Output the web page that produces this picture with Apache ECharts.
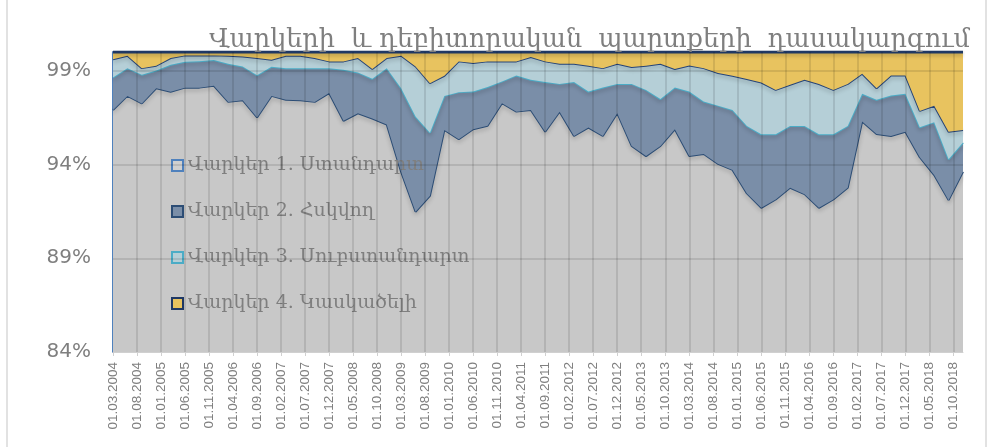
<!DOCTYPE html>
<html>
<head>
<meta charset="utf-8">
<script src="https://cdn.jsdelivr.net/npm/echarts@6/dist/echarts.min.js"></script>
<style>
  html, body { margin: 0; padding: 0; background: #fff; }
  #chart { width: 989px; height: 447px; }
</style>
</head>
<body>
<div id="chart"></div>
<script>
// quarterly observations, 03.2004 .. 12.2018
const dates = [
  '03.2004', '06.2004', '09.2004', '12.2004', '03.2005', '06.2005', '09.2005', '12.2005',
  '03.2006', '06.2006', '09.2006', '12.2006', '03.2007', '06.2007', '09.2007', '12.2007',
  '03.2008', '06.2008', '09.2008', '12.2008', '03.2009', '06.2009', '09.2009', '12.2009',
  '03.2010', '06.2010', '09.2010', '12.2010', '03.2011', '06.2011', '09.2011', '12.2011',
  '03.2012', '06.2012', '09.2012', '12.2012', '03.2013', '06.2013', '09.2013', '12.2013',
  '03.2014', '06.2014', '09.2014', '12.2014', '03.2015', '06.2015', '09.2015', '12.2015',
  '03.2016', '06.2016', '09.2016', '12.2016', '03.2017', '06.2017', '09.2017', '12.2017',
  '03.2018', '06.2018', '09.2018', '12.2018'
];

const standard = [
  96.91, 97.66, 97.26, 98.07, 97.88, 98.10, 98.10, 98.20, 97.34, 97.43,
  96.51, 97.66, 97.45, 97.43, 97.34, 97.81, 96.33, 96.73, 96.45, 96.13,
  93.60, 91.48, 92.33, 95.84, 95.35, 95.88, 96.07, 97.27, 96.82, 96.91,
  95.75, 96.82, 95.52, 95.97, 95.52, 96.74, 94.99, 94.45, 94.99, 95.88,
  94.45, 94.56, 94.03, 93.71, 92.46, 91.69, 92.14, 92.76, 92.42, 91.69,
  92.14, 92.76, 96.29, 95.63, 95.52, 95.75, 94.39, 93.44, 92.10, 93.61
];
const watched = [
  1.73, 1.48, 1.53, 0.94, 1.44, 1.38, 1.41, 1.37, 2.03, 1.80,
  2.25, 1.55, 1.68, 1.70, 1.79, 1.32, 2.72, 2.18, 2.12, 3.01,
  4.47, 5.08, 3.37, 1.82, 2.51, 2.01, 2.06, 1.16, 1.93, 1.61,
  2.65, 1.48, 2.88, 1.92, 2.59, 1.56, 3.31, 3.53, 2.50, 2.23,
  3.44, 2.80, 3.11, 3.20, 3.60, 3.92, 3.47, 3.30, 3.64, 3.92,
  3.47, 3.30, 1.48, 1.82, 2.16, 2.02, 1.60, 2.82, 2.18, 1.56
];
const substandard = [
  0.97, 0.66, 0.35, 0.26, 0.36, 0.34, 0.31, 0.25, 0.43, 0.53,
  0.92, 0.38, 0.67, 0.67, 0.55, 0.37, 0.45, 0.77, 0.52, 0.54,
  1.73, 2.67, 2.64, 1.07, 1.64, 1.52, 1.37, 1.07, 0.75, 1.21,
  1.10, 1.07, 0.97, 1.38, 1.03, 1.07, 0.90, 1.29, 1.88, 0.98,
  1.39, 1.78, 1.74, 1.82, 2.50, 2.76, 2.37, 2.19, 2.46, 2.68,
  2.37, 2.24, 1.07, 0.62, 1.07, 0.98, 0.87, 0.87, 1.47, 0.67
];
const doubtful = [
  0.39, 0.20, 0.86, 0.73, 0.32, 0.18, 0.18, 0.18, 0.20, 0.24,
  0.32, 0.41, 0.20, 0.20, 0.32, 0.50, 0.50, 0.32, 0.91, 0.32,
  0.20, 0.77, 1.66, 1.27, 0.50, 0.59, 0.50, 0.50, 0.50, 0.27,
  0.50, 0.63, 0.63, 0.73, 0.86, 0.63, 0.80, 0.73, 0.63, 0.91,
  0.72, 0.86, 1.12, 1.27, 1.44, 1.63, 2.02, 1.75, 1.48, 1.71,
  2.02, 1.70, 1.16, 1.93, 1.25, 1.25, 3.14, 2.87, 4.25, 4.16
];

const names = [
  'Վարկեր 1. Ստանդարտ',
  'Վարկեր 2. Հսկվող',
  'Վարկեր 3. Սուբստանդարտ',
  'Վարկեր 4. Կասկածելի'
];

// y tick values that carry a grid line
const yGridTicks = [89, 94, 99];

const armFont = '"DejaVu Serif", serif';
const textGray = '#7f7f7f';
const gridLine = { color: 'rgba(0,0,0,0.1)', width: 2, type: 'solid' };

// tick axis counts months from 03.2004; labels and grid every 5 months
const monthsSpan = 177;
const monthStep = 5;
function monthLabel(v) {
  const total = 2004 * 12 + 2 + v;
  const y = Math.floor(total / 12);
  const m = total % 12 + 1;
  return '01.' + String(m).padStart(2, '0') + '.' + y;
}
const xGridTicks = [];
for (let m = monthStep; m < monthsSpan; m += monthStep) xGridTicks.push(m);

const fills = ['#c8c8c8', '#7a8ea8', '#b5cfd7', '#e8c35f'];
const lines = ['#2c4d75', '#4bacc6', '#264478', '#1f3864'];
const values = [standard, watched, substandard, doubtful];

// grid drawn as mark lines so it sits over the filled bands
const gridMarks = {
  silent: true,
  animation: false,
  symbol: ['none', 'none'],
  label: { show: false },
  emphasis: { disabled: true },
  lineStyle: gridLine,
  z: 6
};

const chart = echarts.init(document.getElementById('chart'));

const bandSeries = values.map((arr, k) => ({
  name: names[k],
  type: 'line',
  xAxisIndex: 0,
  yAxisIndex: 0,
  stack: 'total',
  data: arr,
  symbol: 'none',
  z: 2 + k * 0.1,
  lineStyle: {
    color: lines[k],
    width: k === 3 ? 3 : 2,
    shadowColor: 'rgba(0,0,0,0.25)',
    shadowBlur: 4,
    shadowOffsetY: 2
  },
  itemStyle: { color: fills[k] },
  areaStyle: { color: fills[k], opacity: 1 }
}));

// horizontal grid on the top band, vertical grid on a date-scale helper
bandSeries[3].markLine = Object.assign({}, gridMarks, {
  data: yGridTicks.map(v => ({ yAxis: v }))
});

const gridSeries = {
  name: 'grid',
  type: 'line',
  xAxisIndex: 1,
  yAxisIndex: 0,
  data: [],
  symbol: 'none',
  silent: true,
  markLine: Object.assign({}, gridMarks, {
    data: xGridTicks.map(v => ({ xAxis: v }))
  })
};

const option = {
  backgroundColor: '#fff',
  animation: false,
  title: {
    text: 'Վարկերի  և դեբիտորական  պարտքերի  դասակարգում',
    right: 14,
    top: 22,
    textStyle: { fontFamily: armFont, fontSize: 25.5, fontWeight: 'normal', color: textGray }
  },
  legend: {
    orient: 'vertical',
    left: 171,
    top: 156,
    padding: 0,
    itemWidth: 11,
    itemHeight: 11,
    itemGap: 27,
    icon: 'rect',
    textStyle: { fontFamily: armFont, fontSize: 19, color: textGray },
    data: [
      { name: names[0], itemStyle: { color: '#d0d0d0', borderColor: '#4f81bd', borderWidth: 2 } },
      { name: names[1], itemStyle: { color: '#7a8ea8', borderColor: '#2c4d75', borderWidth: 2 } },
      { name: names[2], itemStyle: { color: '#b5cfd7', borderColor: '#4bacc6', borderWidth: 2 } },
      { name: names[3], itemStyle: { color: '#e8c35f', borderColor: '#1f3864', borderWidth: 2 } }
    ]
  },
  grid: { left: 113, right: 26, top: 52, bottom: 95 },
  xAxis: [
    {
      // series axis: one category per quarter, spanning the full width
      type: 'category',
      data: dates,
      boundaryGap: false,
      show: false
    },
    {
      // date scale in months for ticks and labels
      type: 'value',
      min: 0,
      max: monthsSpan,
      interval: monthStep,
      position: 'bottom',
      axisLine: { show: true, lineStyle: { color: '#d0d0d0', width: 1 } },
      axisTick: { show: true, length: 4, lineStyle: { color: '#d0d0d0' } },
      axisLabel: {
        rotate: 90,
        color: textGray,
        fontSize: 13.5,
        fontFamily: 'Liberation Sans, Arial, sans-serif',
        margin: 10,
        showMaxLabel: false,
        formatter: v => monthLabel(v)
      },
      splitLine: { show: false }
    }
  ],
  yAxis: {
    type: 'value',
    min: 84,
    max: 100,
    interval: 5,
    axisLine: { show: true, lineStyle: { color: '#4f81bd', width: 2 } },
    axisTick: { show: false },
    axisLabel: {
      color: textGray,
      fontSize: 20,
      fontFamily: '"DejaVu Sans", sans-serif',
      margin: 22,
      showMaxLabel: false,
      formatter: '{value}%'
    },
    splitLine: { show: false }
  },
  graphic: [
    { type: 'line', shape: { x1: 7, y1: 0, x2: 7, y2: 447 }, style: { stroke: '#d9d9d9', lineWidth: 1.5 } },
    { type: 'line', shape: { x1: 986, y1: 0, x2: 986, y2: 447 }, style: { stroke: '#d9d9d9', lineWidth: 1.5 } }
  ],
  series: bandSeries.concat([gridSeries])
};

chart.setOption(option);
</script>
</body>
</html>
